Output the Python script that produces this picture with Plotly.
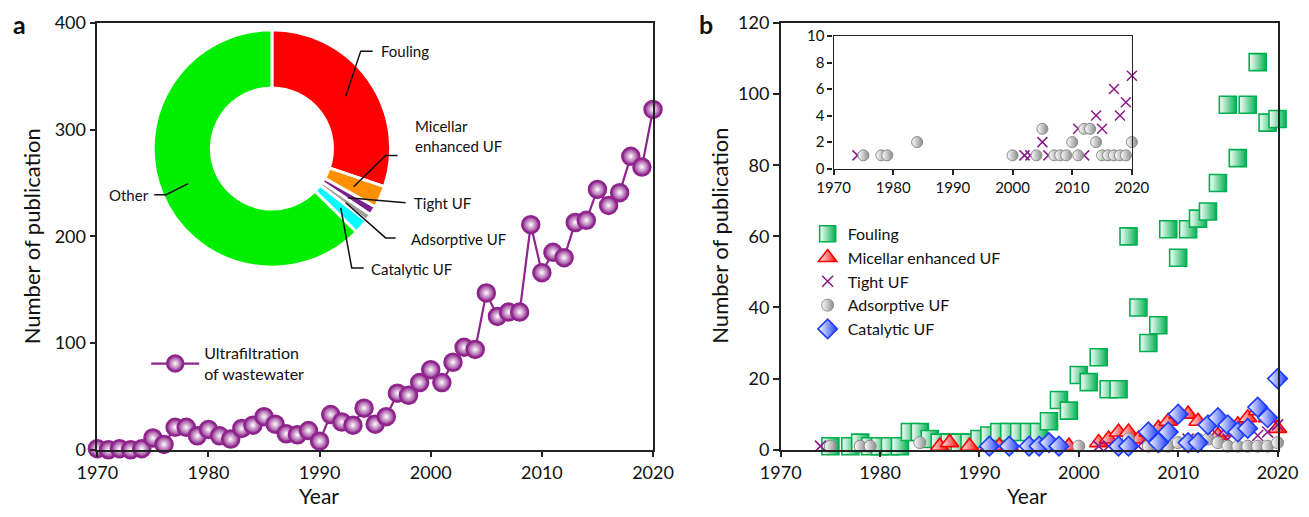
import plotly.graph_objects as go

W, H = 1309, 517

# ---------------- data ----------------
years_a = list(range(1970, 2021))
pubs_a = [1, 0, 1, 0, 1, 11, 5, 21, 21, 13,
          19, 13, 10, 20, 23, 31, 24, 15, 14, 18,
          8, 33, 26, 23, 39, 24, 31, 53, 51, 63,
          75, 63, 82, 96, 94, 147, 125, 129, 129, 211,
          166, 185, 180, 213, 215, 244, 229, 241, 275, 265,
          319]

pie_labels = ["Fouling", "Micellar enhanced UF", "Tight UF", "Adsorptive UF", "Catalytic UF", "Other"]
pie_vals = [30.2, 3.0, 1.2, 1.0, 2.0, 62.6]
pie_colors = ["#FF0000", "#FF9100", "#7B1F8F", "#A0A0A0", "#00FFFF", "#00EE00"]

years_f = [1975, 1977, 1978, 1979, 1980, 1981, 1982, 1983, 1984, 1985, 1986, 1987, 1988, 1989,
           1990, 1991, 1992, 1993, 1994, 1995, 1996, 1997, 1998, 1999, 2000, 2001, 2002, 2003,
           2004, 2005, 2006, 2007, 2008, 2009, 2010, 2011, 2012, 2013, 2014, 2015, 2016, 2017,
           2018, 2019, 2020]
vals_f = [1, 1, 2, 1, 1, 1, 1, 5, 5, 3, 2, 2, 2, 2,
          3, 4, 5, 5, 5, 5, 5, 8, 14, 11, 21, 19, 26, 17,
          17, 60, 40, 30, 35, 62, 54, 62, 65, 67, 75, 97, 82, 97,
          109, 92, 93]

years_m = [1986, 1987, 1989, 1991, 1992, 1993, 1998, 1999, 2002, 2003, 2004, 2005, 2006, 2007,
           2008, 2009, 2010, 2011, 2012, 2013, 2014, 2015, 2016, 2017, 2018, 2019, 2020]
vals_m = [1, 2, 1, 1, 1, 1, 1, 1, 2, 3, 5, 5, 3, 5,
          6, 8, 10, 10, 8, 3, 4, 5, 7, 9, 11, 9, 6]

years_t = [1974, 2002, 2003, 2005, 2006, 2011, 2012, 2014, 2015, 2017, 2018, 2019, 2020]
vals_t = [1, 1, 1, 2, 1, 3, 1, 4, 3, 6, 4, 5, 7]

years_ad = [1975, 1978, 1979, 1984, 2000, 2004, 2005, 2007, 2008, 2009, 2010, 2011, 2012, 2013,
            2014, 2015, 2016, 2017, 2018, 2019, 2020]
vals_ad = [1, 1, 1, 2, 1, 1, 3, 1, 1, 1, 2, 1, 3, 3,
           2, 1, 1, 1, 1, 1, 2]

years_c = [1991, 1993, 1995, 1996, 1997, 1998, 2004, 2005, 2007, 2008, 2009, 2010, 2011, 2012,
           2013, 2014, 2015, 2016, 2017, 2018, 2019, 2020]
vals_c = [1, 1, 1, 1, 2, 1, 1, 1, 5, 2, 5, 10, 2, 2,
          7, 9, 7, 5, 6, 12, 9, 20]

xticks = [1970, 1980, 1990, 2000, 2010, 2020]

# ---------------- styles ----------------
FONT = "Lato"
PURPLE = "#8E248C"
GREEN = "#00B050"
RED = "#FF0000"
XPURPLE = "#8B1A8B"
GRAY = "#8A8A8A"
BLUE = "#1E3CFF"

# observed placement of the paper area inside the page
OX, OY, SW, SH = 27.5, 21.0, 1270.0, 493.0


def px(x):
    return (x - OX) / SW


def py(y):
    return 1 - (y - OY) / SH


fig = go.Figure()

# panel a line
fig.add_trace(go.Scatter(
    x=years_a, y=pubs_a, mode="lines+markers", name="Ultrafiltration<br>of wastewater",
    line=dict(color=PURPLE, width=2.2),
    marker=dict(symbol="circle", size=17, color=PURPLE,
                gradient=dict(type="radial", color="white"),
                line=dict(color=PURPLE, width=2.5)),
    cliponaxis=False, xaxis="x", yaxis="y", legend="legend"))

# donut
fig.add_trace(go.Pie(
    labels=pie_labels, values=pie_vals, hole=0.51, sort=False, direction="clockwise",
    rotation=0, textinfo="none", hoverinfo="skip", showlegend=False,
    marker=dict(colors=pie_colors, line=dict(color="white", width=3)),
    domain=dict(x=[px(152), px(390)], y=[py(268), py(30)])))


def series(xs, ys, name, marker, axis, legend_on):
    return go.Scatter(x=xs, y=ys, mode="markers", name=name, marker=marker,
                      cliponaxis=False, xaxis="x" + axis, yaxis="y" + axis,
                      showlegend=legend_on, legend="legend2")


m_f = dict(symbol="square", size=17, color="white", gradient=dict(type="horizontal", color=GREEN),
           line=dict(color=GREEN, width=1.6))
m_m = dict(symbol="triangle-up", size=16, color="white", gradient=dict(type="horizontal", color=RED),
           line=dict(color=RED, width=1.6))
m_t = dict(symbol="x-thin", size=11, color=XPURPLE, line=dict(color=XPURPLE, width=1.6))
m_ad = dict(symbol="circle", size=12, color="white", gradient=dict(type="horizontal", color=GRAY),
            line=dict(color=GRAY, width=1))
m_c = dict(symbol="diamond", size=15, color="white", gradient=dict(type="horizontal", color=BLUE),
           line=dict(color=BLUE, width=1.6))

fig.add_trace(series(years_f, vals_f, "Fouling", m_f, "2", True))
fig.add_trace(series(years_m, vals_m, "Micellar enhanced UF", m_m, "2", True))
fig.add_trace(series(years_t, vals_t, "Tight UF", m_t, "2", True))
fig.add_trace(series(years_ad, vals_ad, "Adsorptive UF", m_ad, "2", True))
fig.add_trace(series(years_c, vals_c, "Catalytic UF", m_c, "2", True))

# inset
m_t_in = dict(symbol="x-thin", size=10, color=XPURPLE, line=dict(color=XPURPLE, width=1.5))
m_ad_in = dict(symbol="circle", size=11, color="white", gradient=dict(type="horizontal", color=GRAY),
               line=dict(color=GRAY, width=1))
fig.add_trace(series(years_t, vals_t, "Tight UF", m_t_in, "3", False))
fig.add_trace(series(years_ad, vals_ad, "Adsorptive UF", m_ad_in, "3", False))

axis_common = dict(showline=True, linecolor="#222", linewidth=1.5, mirror=True, showgrid=False,
                   zeroline=False, ticks="outside", tickcolor="#222", tickwidth=1.5,
                   tickfont=dict(family=FONT, size=18, color="#111"))
inset_axis = {**axis_common, "tickfont": dict(family=FONT, size=15, color="#111"), "linewidth": 1.3}

fig.update_layout(
    width=W, height=H, autosize=False,
    margin=dict(l=0, r=0, t=0, b=0),
    paper_bgcolor="white", plot_bgcolor="white",
    font=dict(family=FONT, color="#111"),
    xaxis=dict(domain=[px(96), px(653)], range=[1970, 2020], tickvals=xticks, ticklen=6,
               anchor="y", **axis_common),
    yaxis=dict(domain=[py(449), py(24)], range=[0, 400], dtick=100, ticklen=6,
               anchor="x", **axis_common),
    xaxis2=dict(domain=[px(781), px(1279)], range=[1970, 2020], tickvals=xticks, ticklen=6,
                anchor="y2", **axis_common),
    yaxis2=dict(domain=[py(449), py(24)], range=[0, 120], dtick=20, ticklen=6,
                anchor="x2", **axis_common),
    xaxis3=dict(domain=[px(834), px(1133)], range=[1970, 2020], tickvals=xticks, ticklen=5,
                anchor="y3", **inset_axis),
    yaxis3=dict(domain=[py(169), py(37)], range=[0, 10], dtick=2, ticklen=5,
                anchor="x3", **inset_axis),
    legend=dict(x=px(145), y=py(336), xanchor="left", yanchor="top", bgcolor="rgba(0,0,0,0)",
                font=dict(family=FONT, size=16, color="#111"), itemwidth=48, valign="middle"),
    legend2=dict(x=px(808), y=py(217), xanchor="left", yanchor="top", bgcolor="rgba(0,0,0,0)",
                 font=dict(family=FONT, size=16, color="#111"), tracegroupgap=0,
                 itemwidth=30),
)

# axis titles and panel letters
ann = [
    dict(text="Number of publication", x=px(30), y=py(236), textangle=-90, font=dict(size=22)),
    dict(text="Year", x=px(318), y=py(495), font=dict(size=21)),
    dict(text="Number of publication", x=px(720), y=py(236), textangle=-90, font=dict(size=22)),
    dict(text="Year", x=px(1028), y=py(495), font=dict(size=21)),
    dict(text="<b>a</b>", x=px(18), y=py(25), font=dict(size=25)),
    dict(text="<b>b</b>", x=px(706), y=py(25), font=dict(size=25)),
]
for a in ann:
    a.update(xref="paper", yref="paper", showarrow=False, xanchor="center", yanchor="middle")
    a["font"] = dict(family=FONT, color="#111", **a["font"])
    fig.add_annotation(**a)

# donut callout labels
labels_pos = [
    ("Fouling", 378, 52),
    ("Micellar<br>enhanced UF", 412, 137),
    ("Tight UF", 411, 203),
    ("Adsorptive UF", 408, 239),
    ("Catalytic UF", 368, 269),
    ("Other", 106, 195),
]
for t, x, y in labels_pos:
    fig.add_annotation(text=t, x=px(x), y=py(y), xref="paper", yref="paper", showarrow=False,
                       xanchor="left", yanchor="middle", align="left",
                       font=dict(family=FONT, size=15, color="#111"))

leaders = [
    [(345, 97), (360, 52), (372, 52)],
    [(353, 187), (385, 156), (397, 156)],
    [(347, 198), (405, 203)],
    [(345, 203), (385, 238), (395, 238)],
    [(340, 208), (351, 268), (363, 268)],
    [(187, 184), (165, 195), (153, 195)],
]
for pts in leaders:
    path = "M " + " L ".join(f"{px(a):.5f},{py(b):.5f}" for a, b in pts)
    fig.add_shape(type="path", path=path, xref="paper", yref="paper",
                  line=dict(color="#111", width=1.5))

fig.write_html("out.html")
